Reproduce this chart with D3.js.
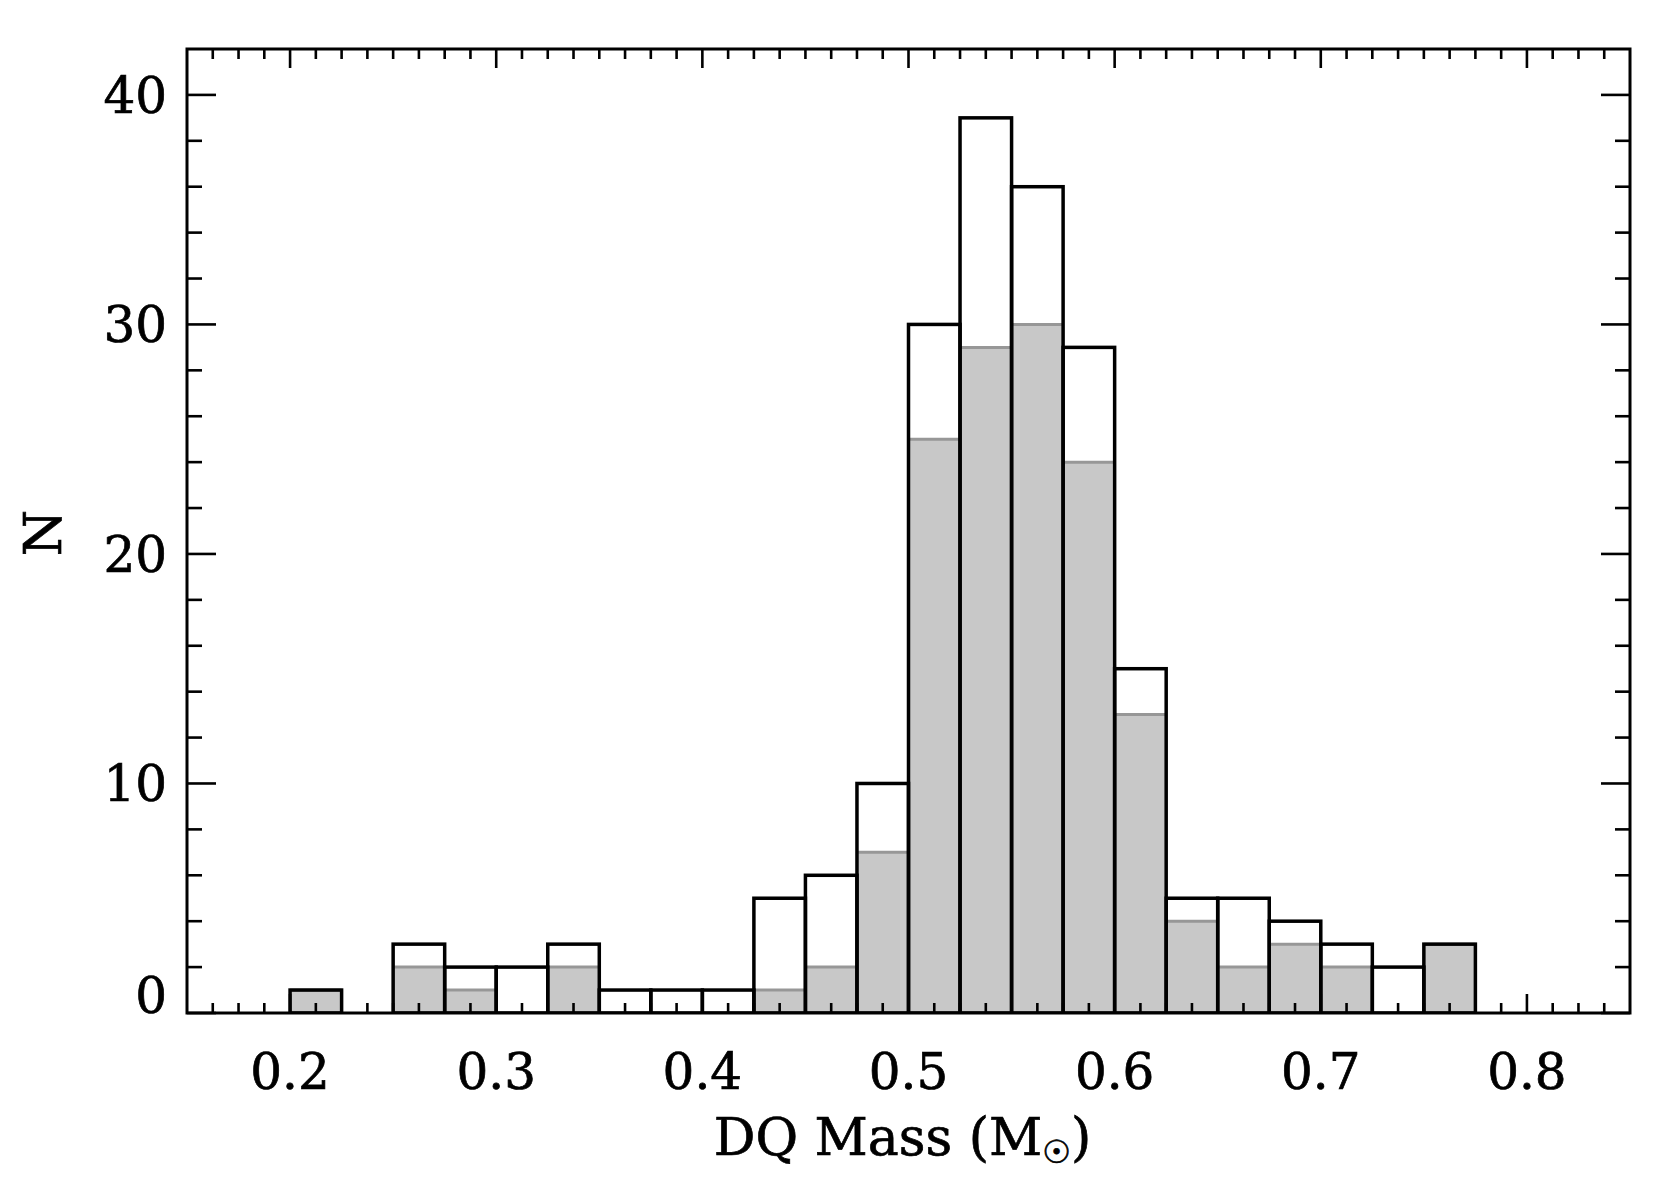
<!DOCTYPE html>
<html>
<head>
<meta charset="utf-8">
<script src="https://cdn.jsdelivr.net/npm/d3@7"></script>
<style>
  body { margin: 0; background: #fff; }
  text { font-family: "DejaVu Serif", serif; fill: #000; stroke: #000; stroke-width: 0.7px; }
</style>
</head>
<body>
<div id="chart"></div>
<script>
// bin lower edges (mass, Msun), bin width 0.025
var binStart = [0.200, 0.225, 0.250, 0.275, 0.300, 0.325, 0.350, 0.375, 0.400, 0.425, 0.450, 0.475,
                0.500, 0.525, 0.550, 0.575, 0.600, 0.625, 0.650, 0.675, 0.700, 0.725, 0.750];
var binWidth = 0.025;
// all DQ stars (black outline)
var allCounts = [1, 0, 3, 2, 2, 3, 1, 1, 1, 5, 6, 10, 30, 39, 36, 29, 15, 5, 5, 4, 3, 2, 3];
// subsample (grey)
var subCounts = [1, 0, 2, 1, 0, 2, 0, 0, 0, 1, 2, 7, 25, 29, 30, 24, 13, 4, 2, 3, 2, 0, 3];

var xTicks = [0.2, 0.3, 0.4, 0.5, 0.6, 0.7, 0.8];
var yTicks = [0, 10, 20, 30, 40];

var W = 1661, H = 1186;
var margin = {top: 49, right: 31, bottom: 173, left: 187};
var width = W - margin.left - margin.right,
    height = H - margin.top - margin.bottom;

var svg = d3.select("#chart").append("svg")
  .attr("width", W)
  .attr("height", H);

var g = svg.append("g").attr("transform", "translate(" + margin.left + "," + margin.top + ")");

var x = d3.scaleLinear().domain([0.15, 0.85]).range([0, width]);
var y = d3.scaleLinear().domain([0, 42]).range([height, 0]);

g.append("clipPath").attr("id", "clip")
  .append("rect").attr("width", width).attr("height", height);

var hist = g.append("g").attr("clip-path", "url(#clip)");

// grey filled subsample
hist.selectAll("rect.sub").data(binStart).enter().append("rect")
  .attr("class", "sub")
  .attr("x", function(d){ return x(d); })
  .attr("y", function(d, i){ return y(subCounts[i]); })
  .attr("width", function(d){ return x(d + binWidth) - x(d); })
  .attr("height", function(d, i){ return y(0) - y(subCounts[i]); })
  .attr("fill", "#c8c8c8");

hist.selectAll("line.subtop").data(binStart.filter(function(d, i){ return subCounts[i] > 0; })).enter().append("line")
  .attr("class", "subtop")
  .attr("x1", function(d){ return x(d); })
  .attr("x2", function(d){ return x(d + binWidth); })
  .attr("y1", function(d){ return y(subCounts[binStart.indexOf(d)]); })
  .attr("y2", function(d){ return y(subCounts[binStart.indexOf(d)]); })
  .attr("stroke", "#979797")
  .attr("stroke-width", 3);

// black outline of full sample
hist.selectAll("rect.all").data(binStart).enter().append("rect")
  .attr("class", "all")
  .attr("x", function(d){ return x(d); })
  .attr("y", function(d, i){ return y(allCounts[i]); })
  .attr("width", function(d){ return x(d + binWidth) - x(d); })
  .attr("height", function(d, i){ return y(0) - y(allCounts[i]); })
  .attr("fill", "none")
  .attr("stroke", "#000")
  .attr("stroke-width", 3.5);

// axes, IDL style: ticks inside on all four sides
function tickLines(sel, vals, orient, len) {
  sel.selectAll(null).data(vals).enter().append("line")
    .attr("x1", function(d){ return orient == "b" || orient == "t" ? x(d) : (orient == "l" ? 0 : width); })
    .attr("x2", function(d){ return orient == "b" || orient == "t" ? x(d) : (orient == "l" ? len : width - len); })
    .attr("y1", function(d){ return orient == "l" || orient == "r" ? y(d) : (orient == "b" ? height : 0); })
    .attr("y2", function(d){ return orient == "l" || orient == "r" ? y(d) : (orient == "b" ? height - len : len); })
    .attr("stroke", "#000")
    .attr("stroke-width", 2.6);
}
var xMinor = d3.range(0, 57).map(function(i){ return +(0.15 + i * 0.0125).toFixed(4); })
  .filter(function(v){ return xTicks.indexOf(v) < 0 && v > 0.15 && v < 0.85; });
var yMinor = d3.range(2, 42, 2).filter(function(v){ return v % 10 != 0; });

var ax = g.append("g");
tickLines(ax, xTicks, "b", 19);
tickLines(ax, xTicks, "t", 19);
tickLines(ax, xMinor, "b", 10);
tickLines(ax, xMinor, "t", 10);
tickLines(ax, yTicks, "l", 29);
tickLines(ax, yTicks, "r", 29);
tickLines(ax, yMinor, "l", 15);
tickLines(ax, yMinor, "r", 15);

g.append("rect")
  .attr("width", width).attr("height", height)
  .attr("fill", "none").attr("stroke", "#000").attr("stroke-width", 3);

// tick labels
g.selectAll("text.xt").data(xTicks).enter().append("text")
  .attr("class", "xt")
  .attr("x", function(d){ return x(d); })
  .attr("y", height + 76)
  .attr("text-anchor", "middle")
  .attr("font-size", 50)
  .text(function(d){ return d3.format(".1f")(d); });

g.selectAll("text.yt").data(yTicks).enter().append("text")
  .attr("class", "yt")
  .attr("x", -20)
  .attr("y", function(d){ return Math.min(y(d) + 18, height); })
  .attr("text-anchor", "end")
  .attr("font-size", 50)
  .text(function(d){ return d; });

// axis titles
var xt = g.append("text")
  .attr("x", width / 2 - 6)
  .attr("y", height + 142)
  .attr("text-anchor", "middle")
  .attr("font-size", 52);
xt.append("tspan").text("DQ Mass (M");
xt.append("tspan").attr("font-family", "DejaVu Sans").attr("font-size", 32).attr("dy", 8).text("\u2609");
xt.append("tspan").attr("dy", -8).text(")");

svg.append("text")
  .attr("transform", "translate(61,533) rotate(-90)")
  .attr("text-anchor", "middle")
  .attr("font-size", 53)
  .text("N");
</script>
</body>
</html>
